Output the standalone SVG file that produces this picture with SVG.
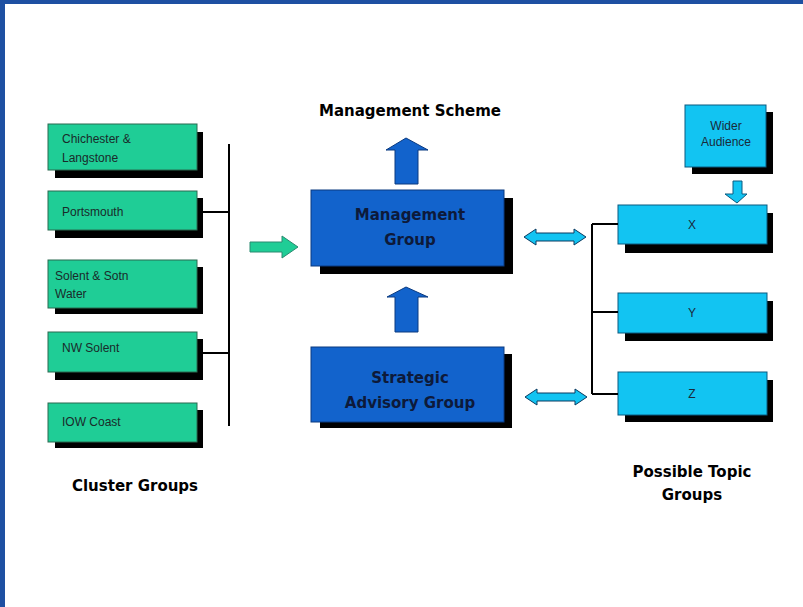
<svg xmlns="http://www.w3.org/2000/svg" width="803" height="607" viewBox="0 0 803 607">
<style>
.sh{fill:#000}
.gr{fill:#1fcd96;stroke:#2a6a50;stroke-width:1}
.bl{fill:#1263cc;stroke:#0a3a80;stroke-width:1}
.cy{fill:#12c4f2;stroke:#0a5a80;stroke-width:1}
.t{font-family:"Liberation Sans",Arial,sans-serif;font-size:12px;fill:#1a2a2a}
.tb{font-family:"DejaVu Sans",sans-serif;font-size:15px;font-weight:bold;fill:#0d1a3a;text-anchor:middle}
.tl{font-family:"DejaVu Sans",sans-serif;font-size:15px;font-weight:bold;fill:#000;text-anchor:middle}
.tc{font-family:"Liberation Sans",Arial,sans-serif;font-size:12px;fill:#1a2a3a;text-anchor:middle}
.ln{stroke:#000;stroke-width:2;fill:none}
</style>
<rect x="0" y="0" width="803" height="607" fill="#fff"/>
<rect x="0" y="0" width="803" height="4" fill="#1e50a2"/>
<rect x="0" y="0" width="5" height="607" fill="#1e50a2"/>

<g id="cluster-chichester">
<rect class="sh" x="55" y="132" width="148" height="46"/>
<rect class="gr" x="48" y="124" width="149" height="46"/>
<text class="t" x="62" y="143">Chichester &amp;</text>
<text class="t" x="62" y="162">Langstone</text>
</g>
<g id="cluster-portsmouth">
<rect class="sh" x="55" y="198" width="148" height="40"/>
<rect class="gr" x="48" y="191" width="149" height="39"/>
<text class="t" x="62" y="216">Portsmouth</text>
</g>
<g id="cluster-solent">
<rect class="sh" x="55" y="267" width="148" height="47"/>
<rect class="gr" x="48" y="260" width="149" height="48"/>
<text class="t" x="55" y="280">Solent &amp; Sotn</text>
<text class="t" x="55" y="298">Water</text>
</g>
<g id="cluster-nwsolent">
<rect class="sh" x="55" y="339" width="148" height="41"/>
<rect class="gr" x="48" y="332" width="149" height="40"/>
<text class="t" x="62" y="352">NW Solent</text>
</g>
<g id="cluster-iowcoast">
<rect class="sh" x="55" y="410" width="148" height="38"/>
<rect class="gr" x="48" y="403" width="149" height="39"/>
<text class="t" x="62" y="426">IOW Coast</text>
</g>
<g id="label-cluster">
<text class="tl" x="135" y="491">Cluster Groups</text>
</g>

<g id="management-group">
<rect class="sh" x="320" y="198" width="193" height="76"/>
<rect class="bl" x="311" y="190" width="193" height="76"/>
<text class="tb" x="410" y="220">Management</text>
<text class="tb" x="410" y="245">Group</text>
</g>
<g id="strategic-advisory-group">
<rect class="sh" x="320" y="354" width="192" height="74"/>
<rect class="bl" x="311" y="347" width="193" height="75"/>
<text class="tb" x="410" y="383">Strategic</text>
<text class="tb" x="410" y="408">Advisory Group</text>
</g>
<g id="label-scheme">
<text class="tl" x="410" y="116">Management Scheme</text>
</g>

<g id="wider-audience">
<rect class="sh" x="692" y="112" width="81" height="62"/>
<rect class="cy" x="685" y="105" width="81" height="62"/>
<text class="tc" x="726" y="130">Wider</text>
<text class="tc" x="726" y="146">Audience</text>
</g>
<g id="topic-x">
<rect class="sh" x="625" y="213" width="148" height="40"/>
<rect class="cy" x="618" y="205" width="149" height="39"/>
<text class="tc" x="692" y="229">X</text>
</g>
<g id="topic-y">
<rect class="sh" x="625" y="301" width="148" height="40"/>
<rect class="cy" x="618" y="293" width="149" height="40"/>
<text class="tc" x="692" y="317">Y</text>
</g>
<g id="topic-z">
<rect class="sh" x="625" y="380" width="148" height="42"/>
<rect class="cy" x="618" y="372" width="149" height="43"/>
<text class="tc" x="692" y="398">Z</text>
</g>
<g id="label-topic">
<text class="tl" x="692" y="477">Possible Topic</text>
<text class="tl" x="692" y="500">Groups</text>
</g>

<g id="connectors">
<path class="ln" d="M229 144 V426 M203 212 H229 M203 353 H229"/>
<path class="ln" d="M592 224 V394 M592 224 H618 M592 312 H618 M592 394 H618"/>
<polygon points="250,242 282,242 282,236 298,247 282,258 282,252 250,252" fill="#1fcd96" stroke="#2a8a70" stroke-width="1"/>
<polygon points="395,184 395,150 386,150 406,138 428,150 418,150 418,184" fill="#1263cc" stroke="#0a3a80" stroke-width="1"/>
<polygon points="395,332 395,297 387,297 406,287 428,297 418,297 418,332" fill="#1263cc" stroke="#0a3a80" stroke-width="1"/>
<polygon points="733,181 742,181 742,194 747,194 737,203 725,194 733,194" fill="#12c4f2" stroke="#0a5a80" stroke-width="1"/>
<polygon points="524,237 536,229 536,233 574,233 574,229 586,237 574,245 574,241 536,241 536,245" fill="#12c4f2" stroke="#0a3a60" stroke-width="1"/>
<polygon points="525,397 537,389 537,393 575,393 575,389 587,397 575,405 575,401 537,401 537,405" fill="#12c4f2" stroke="#0a3a60" stroke-width="1"/>
</g>
</svg>
